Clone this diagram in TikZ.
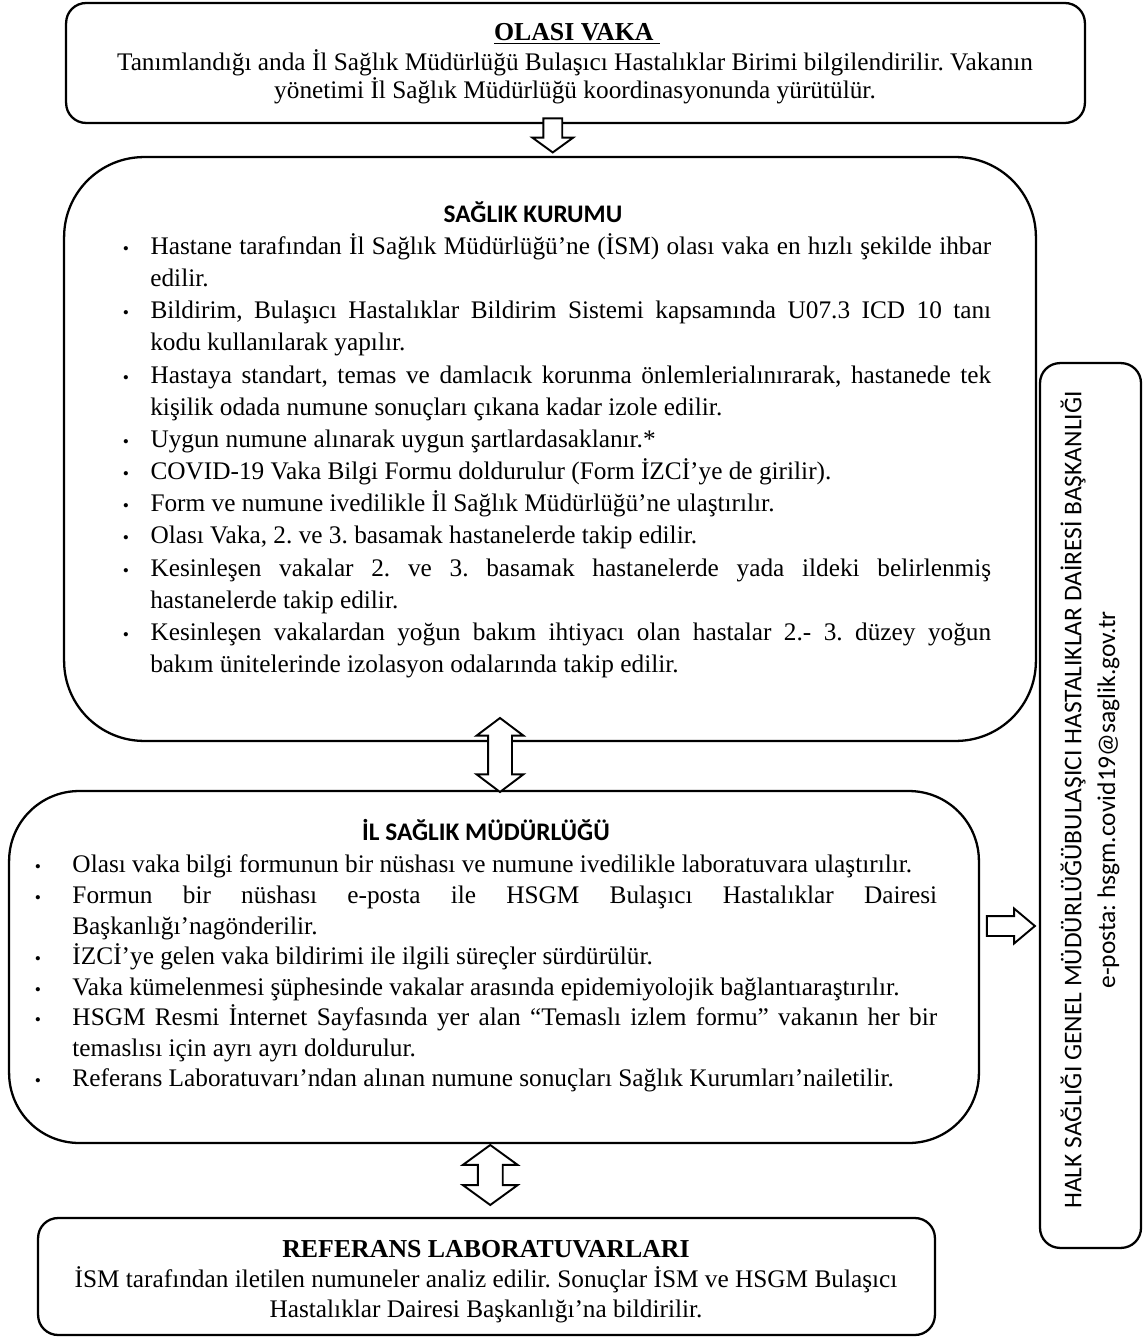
\documentclass[tikz,border=0pt]{standalone}
\usepackage{fontspec}
\setmainfont{Liberation Serif}
\newfontfamily\calibri{Carlito}
\usetikzlibrary{positioning,shapes.arrows,calc}
\hyphenpenalty=10000
\exhyphenpenalty=10000
\frenchspacing

\newenvironment{bullets}[2]{%
  \begin{list}{\fontsize{10}{10}\selectfont\textbullet}{%
    \setlength{\leftmargin}{#1}\setlength{\labelwidth}{0.12cm}%
    \setlength{\labelsep}{#2}\setlength{\topsep}{0pt}%
    \setlength{\itemsep}{0pt}\setlength{\parsep}{0pt}%
    \setlength{\partopsep}{0pt}}}%
  {\end{list}}

\tikzset{
  box/.style={draw,line width=1.3pt,rounded corners=#1,inner sep=0pt},
  box/.default=0.4cm,
  headsans/.style={font=\calibri\bfseries\fontsize{14.4}{17}\selectfont,inner sep=0pt},
  headserif/.style={font=\bfseries\fontsize{14.7}{17}\selectfont,inner sep=0pt},
  plain/.style={font=\fontsize{14.4}{#1}\selectfont,align=center,inner sep=0pt},
  listtext/.style={font=\fontsize{14.4}{#1}\selectfont,
    align=justify,inner sep=0pt,anchor=north west},
  blockarrow/.style={draw,fill=white,line width=1.1pt,inner xsep=0pt},
}

\begin{document}
\begin{tikzpicture}[x=0.02cm,y=-0.02cm]
\useasboundingbox (0,0) rectangle (1143,1337);

% boxes
\node[box] (olasi) at (575.5,63) [minimum width=20.38cm,minimum height=2.4cm] {};
\node[box=1.6cm] (saglik) at (550,449) [minimum width=19.44cm,minimum height=11.68cm] {};
\node[box=1.4cm] (ism) at (494,967) [minimum width=19.4cm,minimum height=7.04cm] {};
\node[box] (ref) at (486.5,1276.5) [minimum width=17.94cm,minimum height=2.34cm] {};
\node[box] (hsgm) at (1090.5,805.5) [minimum width=2.02cm,minimum height=17.7cm] {};

% OLASI VAKA
\node[headserif] (olasih) at (577,34) {\underline{OLASI VAKA\ }};
\node[plain=15.9pt] (olasit) at (575,77) {Tanımlandığı anda İl Sağlık Müdürlüğü Bulaşıcı Hastalıklar Birimi bilgilendirilir. Vakanın\\
  yönetimi İl Sağlık Müdürlüğü koordinasyonunda yürütülür.};

% SAGLIK KURUMU
\node[headsans] (saglikh) at (533,212) {SAĞLIK KURUMU};
\node[listtext=18.3pt,text width=17.37cm] (saglikt) at (122.5,222) {%
\begin{bullets}{0.55cm}{0.43cm}
\item Hastane tarafından İl Sağlık Müdürlüğü’ne (İSM) olası vaka en hızlı şekilde ihbar\linebreak edilir.
\item Bildirim, Bulaşıcı Hastalıklar Bildirim Sistemi kapsamında U07.3 ICD 10 tanı\linebreak kodu kullanılarak yapılır.
\item Hastaya standart, temas ve damlacık korunma önlemlerialınırarak, hastanede tek\linebreak kişilik odada numune sonuçları çıkana kadar izole edilir.
\item Uygun numune alınarak uygun şartlardasaklanır.*
\item COVID-19 Vaka Bilgi Formu doldurulur (Form İZCİ’ye de girilir).
\item Form ve numune ivedilikle İl Sağlık Müdürlüğü’ne ulaştırılır.
\item Olası Vaka, 2. ve 3. basamak hastanelerde takip edilir.
\item Kesinleşen vakalar 2. ve 3. basamak hastanelerde yada ildeki belirlenmiş\linebreak hastanelerde takip edilir.
\item Kesinleşen vakalardan yoğun bakım ihtiyacı olan hastalar 2.- 3. düzey yoğun\linebreak bakım ünitelerinde izolasyon odalarında takip edilir.
\end{bullets}};

% IL SAGLIK MUDURLUGU
\node[headsans] (ismh) at (486,830) {İL SAĞLIK MÜDÜRLÜĞÜ};
\node[listtext=17.4pt,text width=18.05cm] (ismt) at (34.5,842) {%
\begin{bullets}{0.75cm}{0.63cm}
\item Olası vaka bilgi formunun bir nüshası ve numune ivedilikle laboratuvara ulaştırılır.
\item Formun bir nüshası e-posta ile HSGM Bulaşıcı Hastalıklar Dairesi\linebreak Başkanlığı’nagönderilir.
\item İZCİ’ye gelen vaka bildirimi ile ilgili süreçler sürdürülür.
\item Vaka kümelenmesi şüphesinde vakalar arasında epidemiyolojik bağlantıaraştırılır.
\item HSGM Resmi İnternet Sayfasında yer alan “Temaslı izlem formu” vakanın her bir\linebreak temaslısı için ayrı ayrı doldurulur.
\item Referans Laboratuvarı’ndan alınan numune sonuçları Sağlık Kurumları’nailetilir.
\end{bullets}};

% REFERANS LABORATUVARLARI
\node[headserif] (refh) at (486,1249) {REFERANS LABORATUVARLARI};
\node[plain=17pt] (reft) at (486,1295) {İSM tarafından iletilen numuneler analiz edilir. Sonuçlar İSM ve HSGM Bulaşıcı\\
  Hastalıklar Dairesi Başkanlığı’na bildirilir.};

% HSGM
\node[rotate=90,align=center,inner sep=0pt,font=\calibri\fontsize{14.5}{19.3}\selectfont] (hsgmt) at (1090,800)
  {HALK SAĞLIĞI GENEL MÜDÜRLÜĞÜBULAŞICI HASTALIKLAR DAİRESİ BAŞKANLIĞI\\
   e-posta: hsgm.covid19@saglik.gov.tr};

% block arrows
\node[blockarrow,single arrow,rotate=-90,minimum height=0.68cm,inner ysep=0.17cm,
  single arrow head extend=0.22cm,single arrow tip angle=108]
  (a1) at ($(olasi.south)!.5!(saglik.north)+(-10,-8)$) {};
\node[blockarrow,double arrow,rotate=90,minimum height=1.48cm,inner ysep=0.22cm,
  double arrow head extend=0.23cm,double arrow tip angle=106]
  (a2) at ($(saglik.south)!.5!(ism.north)+(-22,-11)$) {};
\node[blockarrow,double arrow,rotate=90,minimum height=1.2cm,inner ysep=0.23cm,
  double arrow head extend=0.3cm,double arrow tip angle=108]
  (a3) at ($(ism.south)!.5!(ref.north)+(0,-5.5)$) {};
\node[blockarrow,single arrow,minimum height=0.96cm,inner ysep=0.18cm,
  single arrow head extend=0.15cm,single arrow tip angle=80]
  (a4) at ($(ism.east)!.5!(ism.east -| hsgm.west)+(-4.5,-41)$) {};
\end{tikzpicture}
\end{document}
